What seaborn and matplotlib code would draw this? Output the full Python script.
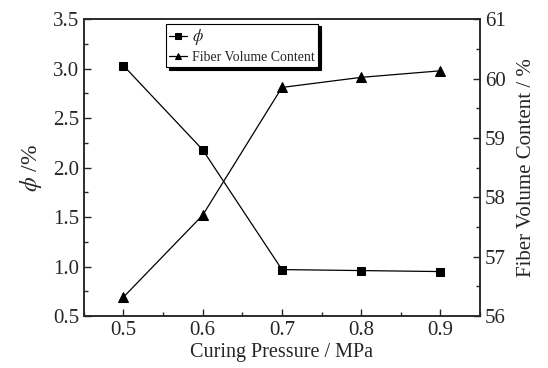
import numpy as np
import pandas as pd
import matplotlib
matplotlib.use("Agg")
import matplotlib.pyplot as plt
from matplotlib.ticker import MultipleLocator
import seaborn as sns

pressure = [0.5, 0.6, 0.7, 0.8, 0.9]
phi = [3.03, 2.18, 0.97, 0.96, 0.95]
fiber_content = [56.32, 57.70, 59.85, 60.02, 60.13]

sns.set_style("ticks")
plt.rcParams['font.family'] = ['Liberation Serif', 'DejaVu Serif']
plt.rcParams['mathtext.fontset'] = 'stix'
plt.rcParams['xtick.direction'] = 'in'
plt.rcParams['ytick.direction'] = 'in'

df = pd.DataFrame({"pressure": pressure, "phi": phi, "fiber": fiber_content})

fig = plt.figure(figsize=(5.48, 3.68), dpi=100)
ax = fig.add_axes([0.153, 0.141, 0.723, 0.807])
ax2 = ax.twinx()

sns.lineplot(data=df, x="pressure", y="phi", ax=ax, color="black", lw=0.9,
             marker="s", markersize=6, markeredgecolor="black", label=r"$\phi$", legend=False)
sns.lineplot(data=df, x="pressure", y="fiber", ax=ax2, color="black", lw=0.9,
             marker="^", markersize=7.5, markeredgecolor="black", label="Fiber Volume Content", legend=False)

ax.set_xlim(0.45, 0.95)
ax.set_ylim(0.5, 3.5)
ax2.set_ylim(56, 61)

ax.xaxis.set_major_locator(MultipleLocator(0.1))
ax.xaxis.set_minor_locator(MultipleLocator(0.05))
ax.yaxis.set_major_locator(MultipleLocator(0.5))
ax.yaxis.set_minor_locator(MultipleLocator(0.25))
ax2.yaxis.set_major_locator(MultipleLocator(1))
ax2.yaxis.set_minor_locator(MultipleLocator(0.5))

for a in (ax, ax2):
    a.tick_params(which="major", length=5, width=1, labelsize=15)
    a.tick_params(which="minor", length=3, width=1)
    for s in a.spines.values():
        s.set_visible(True)
        s.set_linewidth(1.1)
ax.tick_params(axis="x", which="both", top=False)

ax.set_xlabel("Curing Pressure / MPa", fontsize=14.5, labelpad=2)
ax.set_ylabel(r"$\phi$ /%", fontsize=17, labelpad=6)
ax2.set_ylabel("Fiber Volume Content / %", fontsize=15, labelpad=8)

h1, l1 = ax.get_legend_handles_labels()
h2, l2 = ax2.get_legend_handles_labels()
leg = ax.legend(h1 + h2, l1 + l2, loc="upper left", bbox_to_anchor=(0.207, 0.985),
                borderaxespad=0, fontsize=10, handlelength=1.3, handletextpad=0.3,
                labelspacing=0.25, borderpad=0.25, fancybox=False, framealpha=1,
                markerscale=0.65, edgecolor="black", shadow={"color": "black", "alpha": 1})
leg.get_frame().set_linewidth(0.8)
leg.get_texts()[0].set_fontsize(12)
leg.set_zorder(10)
ax.set_zorder(ax2.get_zorder() + 1)
ax.patch.set_visible(False)

fig.savefig("out.png", dpi=100)
